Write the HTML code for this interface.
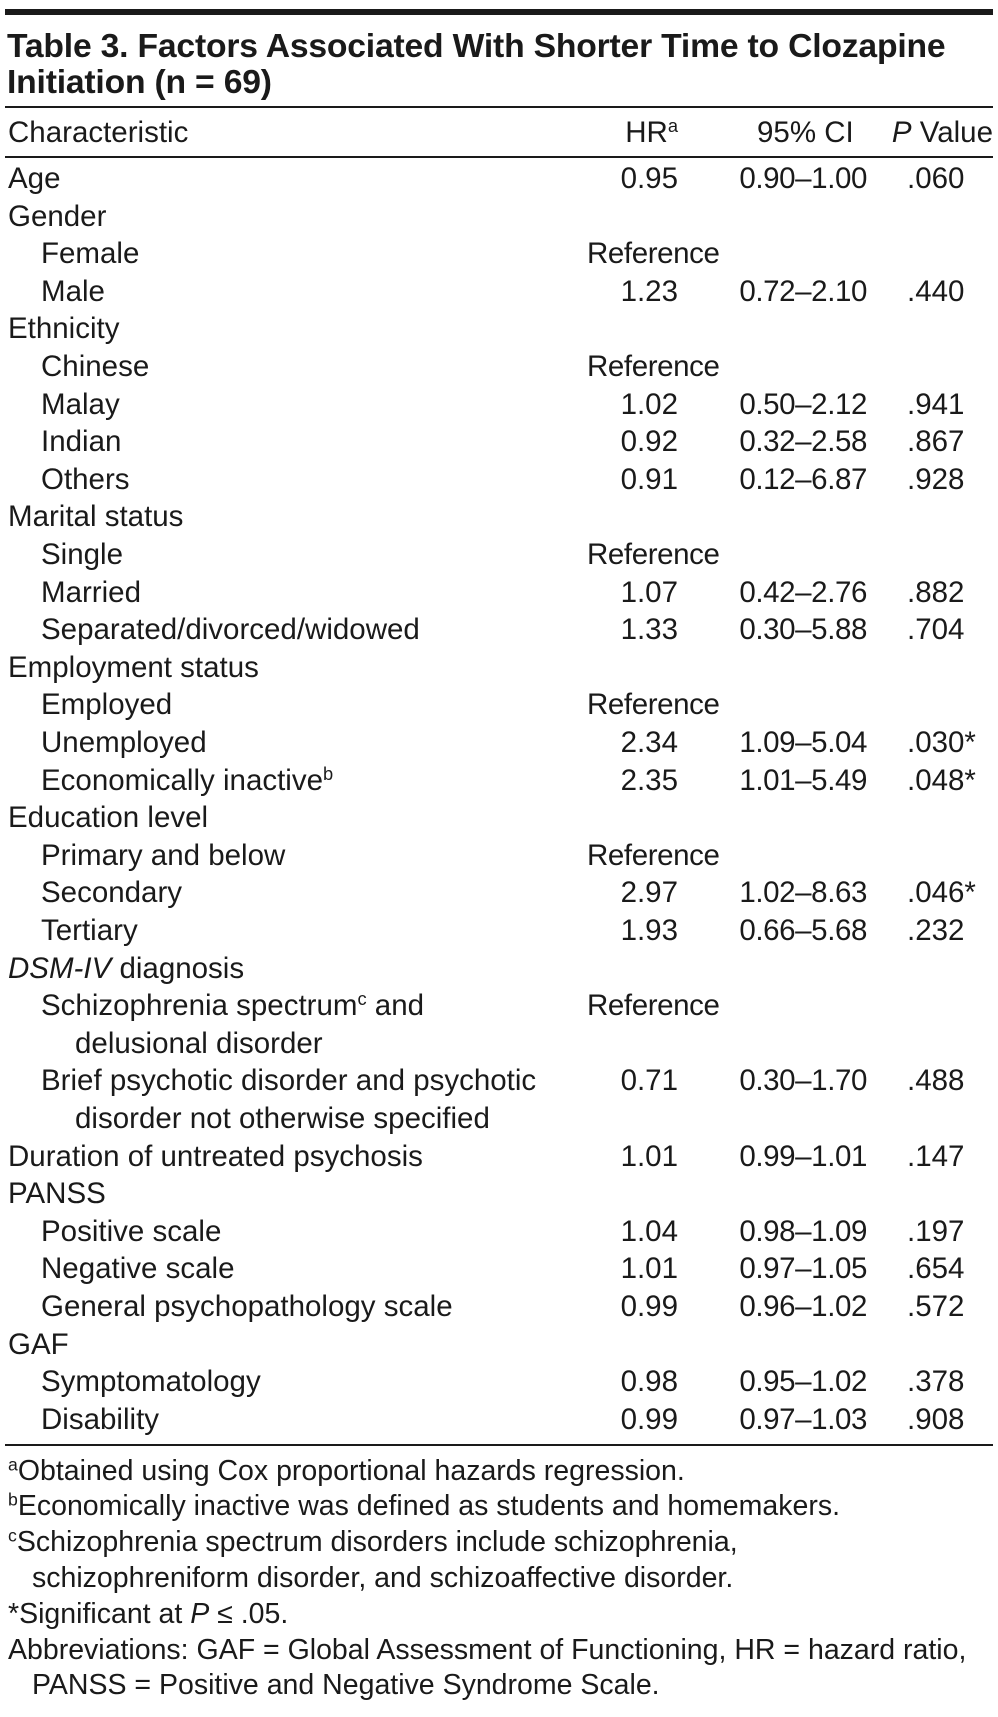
<!DOCTYPE html>
<html><head><meta charset="utf-8"><style>
body{margin:0;width:998px;height:1717px;background:#fff;position:relative;overflow:hidden;font-family:"Liberation Sans",sans-serif;color:#1a1a1a}
.bar{position:absolute;left:5px;width:988px;background:#1a1a1a}
.t{position:absolute;left:7px;font-weight:bold;font-size:33.7px;line-height:36px;letter-spacing:-0.2px}
.r{position:absolute;left:0;width:998px;height:37.6px;line-height:37.6px;font-size:29.5px;white-space:nowrap}
.r span{position:absolute}
.a{left:8px}.b{left:41px}.c{left:75px}
.ref{left:587px;letter-spacing:-0.4px}
.hr{right:320px}
.ci{right:131px;letter-spacing:-0.4px}
.p{left:907px}
.f{position:absolute;left:8px;font-size:28.5px;line-height:34px;white-space:nowrap}
sup{font-size:62%;vertical-align:0.55em;line-height:0}
</style></head><body>
<div class="bar" style="top:9px;height:6px"></div>
<div class="t" style="top:28px">Table 3. Factors Associated With Shorter Time to Clozapine</div>
<div class="t" style="top:64px">Initiation (n = 69)</div>
<div class="bar" style="top:106px;height:2px"></div>
<div class="r" style="top:114px"><span class="a">Characteristic</span><span class="hr">HR<sup>a</sup></span><span style="left:757px">95% CI</span><span style="right:5px"><i>P</i> Value</span></div>
<div class="bar" style="top:156px;height:1.5px"></div>
<div class="r" style="top:160px"><span class="a">Age</span><span class="hr">0.95</span><span class="ci">0.90–1.00</span><span class="p">.060</span></div>
<div class="r" style="top:197.6px"><span class="a">Gender</span></div>
<div class="r" style="top:235.2px"><span class="b">Female</span><span class="ref">Reference</span></div>
<div class="r" style="top:272.8px"><span class="b">Male</span><span class="hr">1.23</span><span class="ci">0.72–2.10</span><span class="p">.440</span></div>
<div class="r" style="top:310.4px"><span class="a">Ethnicity</span></div>
<div class="r" style="top:348px"><span class="b">Chinese</span><span class="ref">Reference</span></div>
<div class="r" style="top:385.6px"><span class="b">Malay</span><span class="hr">1.02</span><span class="ci">0.50–2.12</span><span class="p">.941</span></div>
<div class="r" style="top:423.2px"><span class="b">Indian</span><span class="hr">0.92</span><span class="ci">0.32–2.58</span><span class="p">.867</span></div>
<div class="r" style="top:460.8px"><span class="b">Others</span><span class="hr">0.91</span><span class="ci">0.12–6.87</span><span class="p">.928</span></div>
<div class="r" style="top:498.4px"><span class="a">Marital status</span></div>
<div class="r" style="top:536px"><span class="b">Single</span><span class="ref">Reference</span></div>
<div class="r" style="top:573.6px"><span class="b">Married</span><span class="hr">1.07</span><span class="ci">0.42–2.76</span><span class="p">.882</span></div>
<div class="r" style="top:611.2px"><span class="b">Separated/divorced/widowed</span><span class="hr">1.33</span><span class="ci">0.30–5.88</span><span class="p">.704</span></div>
<div class="r" style="top:648.8px"><span class="a">Employment status</span></div>
<div class="r" style="top:686.4px"><span class="b">Employed</span><span class="ref">Reference</span></div>
<div class="r" style="top:724px"><span class="b">Unemployed</span><span class="hr">2.34</span><span class="ci">1.09–5.04</span><span class="p">.030*</span></div>
<div class="r" style="top:761.6px"><span class="b">Economically inactive<sup>b</sup></span><span class="hr">2.35</span><span class="ci">1.01–5.49</span><span class="p">.048*</span></div>
<div class="r" style="top:799.2px"><span class="a">Education level</span></div>
<div class="r" style="top:836.8px"><span class="b">Primary and below</span><span class="ref">Reference</span></div>
<div class="r" style="top:874.4px"><span class="b">Secondary</span><span class="hr">2.97</span><span class="ci">1.02–8.63</span><span class="p">.046*</span></div>
<div class="r" style="top:912px"><span class="b">Tertiary</span><span class="hr">1.93</span><span class="ci">0.66–5.68</span><span class="p">.232</span></div>
<div class="r" style="top:949.6px"><span class="a"><i>DSM-IV</i> diagnosis</span></div>
<div class="r" style="top:987.2px"><span class="b">Schizophrenia spectrum<sup>c</sup> and</span><span class="ref">Reference</span></div>
<div class="r" style="top:1024.8px"><span class="c">delusional disorder</span></div>
<div class="r" style="top:1062.4px"><span class="b">Brief psychotic disorder and psychotic</span><span class="hr">0.71</span><span class="ci">0.30–1.70</span><span class="p">.488</span></div>
<div class="r" style="top:1100px"><span class="c">disorder not otherwise specified</span></div>
<div class="r" style="top:1137.6px"><span class="a">Duration of untreated psychosis</span><span class="hr">1.01</span><span class="ci">0.99–1.01</span><span class="p">.147</span></div>
<div class="r" style="top:1175.2px"><span class="a">PANSS</span></div>
<div class="r" style="top:1212.8px"><span class="b">Positive scale</span><span class="hr">1.04</span><span class="ci">0.98–1.09</span><span class="p">.197</span></div>
<div class="r" style="top:1250.4px"><span class="b">Negative scale</span><span class="hr">1.01</span><span class="ci">0.97–1.05</span><span class="p">.654</span></div>
<div class="r" style="top:1288px"><span class="b">General psychopathology scale</span><span class="hr">0.99</span><span class="ci">0.96–1.02</span><span class="p">.572</span></div>
<div class="r" style="top:1325.6px"><span class="a">GAF</span></div>
<div class="r" style="top:1363.2px"><span class="b">Symptomatology</span><span class="hr">0.98</span><span class="ci">0.95–1.02</span><span class="p">.378</span></div>
<div class="r" style="top:1400.8px"><span class="b">Disability</span><span class="hr">0.99</span><span class="ci">0.97–1.03</span><span class="p">.908</span></div>
<div class="bar" style="top:1444px;height:1.5px"></div>
<div class="f" style="top:1454px"><sup>a</sup>Obtained using Cox proportional hazards regression.</div>
<div class="f" style="top:1489px"><sup>b</sup>Economically inactive was defined as students and homemakers.</div>
<div class="f" style="top:1525px"><sup>c</sup>Schizophrenia spectrum disorders include schizophrenia,</div>
<div class="f" style="top:1561px;left:32px">schizophreniform disorder, and schizoaffective disorder.</div>
<div class="f" style="top:1597px">*Significant at <i>P</i> ≤ .05.</div>
<div class="f" style="top:1633px">Abbreviations: GAF = Global Assessment of Functioning, HR = hazard ratio,</div>
<div class="f" style="top:1668px;left:32px">PANSS = Positive and Negative Syndrome Scale.</div>
</body></html>
